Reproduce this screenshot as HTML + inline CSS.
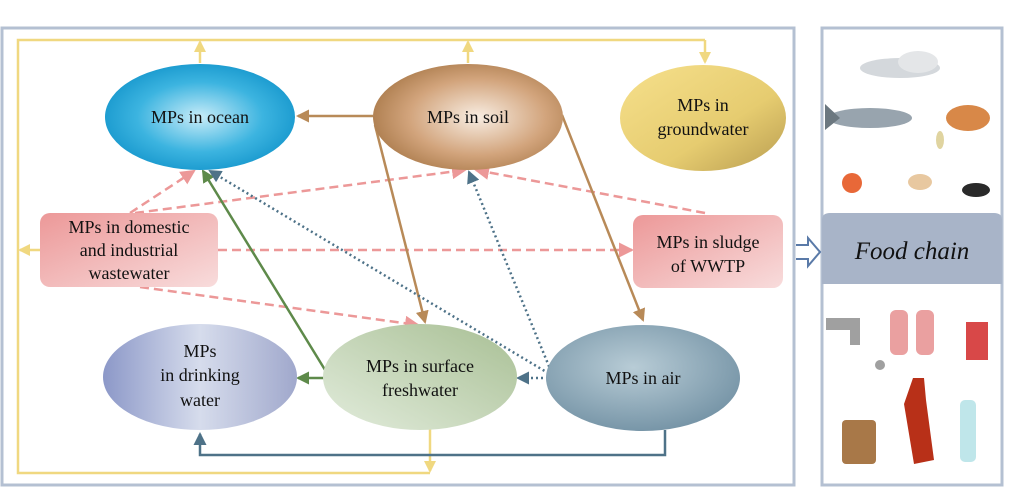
<!DOCTYPE html>
<html><head><meta charset="utf-8"><style>
body{margin:0;background:#fff;}
svg text{font-family:"Liberation Serif",serif;fill:#111;}
</style></head><body>
<svg width="1020" height="489" viewBox="0 0 1020 489" xmlns="http://www.w3.org/2000/svg">
<defs>
<radialGradient id="gOc" cx="50%" cy="50%" r="55%"><stop offset="0" stop-color="#c8ecf8"/><stop offset="0.6" stop-color="#3cb4e0"/><stop offset="1" stop-color="#1596cc"/></radialGradient>
<radialGradient id="gSo" cx="55%" cy="50%" r="60%"><stop offset="0" stop-color="#f8ede2"/><stop offset="0.6" stop-color="#d2a47c"/><stop offset="1" stop-color="#a87848"/></radialGradient>
<linearGradient id="gGw" x1="0" y1="0" x2="1" y2="1"><stop offset="0" stop-color="#f6e08c"/><stop offset="0.6" stop-color="#e6cc70"/><stop offset="1" stop-color="#b89c50"/></linearGradient>
<linearGradient id="gDr" x1="0" y1="0" x2="1" y2="0"><stop offset="0" stop-color="#8c98c8"/><stop offset="0.5" stop-color="#d6dcec"/><stop offset="1" stop-color="#a0a8cc"/></linearGradient>
<linearGradient id="gSf" x1="0" y1="1" x2="1" y2="0"><stop offset="0" stop-color="#e2ecdc"/><stop offset="1" stop-color="#a8bf94"/></linearGradient>
<radialGradient id="gAi" cx="45%" cy="40%" r="60%"><stop offset="0" stop-color="#b8ccd6"/><stop offset="1" stop-color="#7896a8"/></radialGradient>
<linearGradient id="gPk" x1="0" y1="0" x2="1" y2="1"><stop offset="0" stop-color="#ec9898"/><stop offset="1" stop-color="#f8dcdc"/></linearGradient>
<marker id="aY" markerWidth="12" markerHeight="12" refX="10" refY="6" orient="auto" markerUnits="userSpaceOnUse"><path d="M0,0L12,6L0,12z" fill="#f0d880"/></marker>
<marker id="aB" markerWidth="13" markerHeight="13" refX="11" refY="6.5" orient="auto" markerUnits="userSpaceOnUse"><path d="M0,0L13,6.5L0,13z" fill="#b88a58"/></marker>
<marker id="aG" markerWidth="13" markerHeight="13" refX="11" refY="6.5" orient="auto" markerUnits="userSpaceOnUse"><path d="M0,0L13,6.5L0,13z" fill="#5e8a4a"/></marker>
<marker id="aS" markerWidth="13" markerHeight="13" refX="11" refY="6.5" orient="auto" markerUnits="userSpaceOnUse"><path d="M0,0L13,6.5L0,13z" fill="#4e7288"/></marker>
<marker id="aP" markerWidth="15" markerHeight="15" refX="13" refY="7.5" orient="auto" markerUnits="userSpaceOnUse"><path d="M0,0L15,7.5L0,15z" fill="#ec9898"/></marker>
</defs>
<rect x="2" y="28" width="792" height="457" fill="none" stroke="#b4c0d2" stroke-width="3"/>
<rect x="822" y="28" width="180" height="457" fill="none" stroke="#b4c0d2" stroke-width="3"/>
<g stroke="#f0d880" stroke-width="2.5" fill="none">
<polyline points="705,40 18,40 18,473 430,473"/>
<line x1="705" y1="40" x2="705" y2="62" marker-end="url(#aY)"/>
<line x1="200" y1="63" x2="200" y2="42" marker-end="url(#aY)"/>
<line x1="468" y1="63" x2="468" y2="42" marker-end="url(#aY)"/>
<line x1="40" y1="250" x2="20" y2="250" marker-end="url(#aY)"/>
<line x1="430" y1="428" x2="430" y2="471" marker-end="url(#aY)"/>
</g>
<polyline points="665,430 665,455 200,455 200,434" fill="none" stroke="#4e7288" stroke-width="2.5" marker-end="url(#aS)"/>
<g stroke="#ec9898" stroke-width="2.5" stroke-dasharray="9,5" fill="none">
<line x1="130" y1="213" x2="194" y2="171" marker-end="url(#aP)"/>
<line x1="135" y1="213" x2="465" y2="170" marker-end="url(#aP)"/>
<line x1="705" y1="213" x2="476" y2="170" marker-end="url(#aP)"/>
<line x1="218" y1="250" x2="632" y2="250" marker-end="url(#aP)"/>
<line x1="140" y1="287" x2="418" y2="325" marker-end="url(#aP)"/>
</g>
<g stroke="#b88a58" stroke-width="2.5" fill="none">
<line x1="373" y1="116" x2="298" y2="116" marker-end="url(#aB)"/>
<line x1="375" y1="125" x2="425" y2="322" marker-end="url(#aB)"/>
<line x1="562" y1="115" x2="643" y2="320" marker-end="url(#aB)"/>
</g>
<g stroke="#5e8a4a" stroke-width="2.5" fill="none">
<line x1="330" y1="378" x2="298" y2="378" marker-end="url(#aG)"/>
<line x1="330" y1="378" x2="203" y2="171" marker-end="url(#aG)"/>
</g>
<g stroke="#4e7288" stroke-width="2.5" stroke-dasharray="2,3" fill="none">
<line x1="553" y1="378" x2="518" y2="378" marker-end="url(#aS)"/>
<line x1="553" y1="376" x2="210" y2="171" marker-end="url(#aS)"/>
<line x1="553" y1="376" x2="469" y2="172" marker-end="url(#aS)"/>
</g>
<ellipse cx="200" cy="117" rx="95" ry="53" fill="url(#gOc)"/>
<ellipse cx="468" cy="117" rx="95" ry="53" fill="url(#gSo)"/>
<ellipse cx="703" cy="118" rx="83" ry="53" fill="url(#gGw)"/>
<ellipse cx="200" cy="377" rx="97" ry="53" fill="url(#gDr)"/>
<ellipse cx="420" cy="377" rx="97" ry="53" fill="url(#gSf)"/>
<ellipse cx="643" cy="378" rx="97" ry="53" fill="url(#gAi)"/>
<rect x="40" y="213" width="178" height="74" rx="10" fill="url(#gPk)"/>
<rect x="633" y="215" width="150" height="73" rx="10" fill="url(#gPk)"/>
<g font-size="18" text-anchor="middle">
<text x="200" y="123">MPs in ocean</text>
<text x="468" y="123">MPs in soil</text>
<text x="703" y="111">MPs in</text><text x="703" y="135">groundwater</text>
<text x="129" y="233">MPs in domestic</text><text x="129" y="256">and industrial</text><text x="129" y="279">wastewater</text>
<text x="708" y="248">MPs in sludge</text><text x="708" y="272">of WWTP</text>
<text x="200" y="357">MPs</text><text x="200" y="381">in drinking</text><text x="200" y="406">water</text>
<text x="420" y="372">MPs in surface</text><text x="420" y="396">freshwater</text>
<text x="643" y="384">MPs in air</text>
</g>
<path d="M796,245 L808,245 L808,238 L820,252 L808,266 L808,259 L796,259" fill="#fff" stroke="#5a7aa8" stroke-width="2"/>
<path d="M822,220 Q822,213 830,213 L994,213 Q1002,213 1002,220 L1002,284 L822,284z" fill="#a8b4c8"/>
<text x="912" y="259" font-size="25" font-style="italic" text-anchor="middle">Food chain</text>
<ellipse cx="900" cy="68" rx="40" ry="10" fill="#d4d8dc"/><ellipse cx="918" cy="62" rx="20" ry="11" fill="#e4e6e8"/>
<ellipse cx="870" cy="118" rx="42" ry="10" fill="#98a4ae"/><path d="M825,104 L840,118 L825,130z" fill="#6c7880"/>
<ellipse cx="968" cy="118" rx="22" ry="13" fill="#d88848"/><ellipse cx="940" cy="140" rx="4" ry="9" fill="#e0d4a0"/>
<circle cx="852" cy="183" r="10" fill="#e86838"/>
<ellipse cx="920" cy="182" rx="12" ry="8" fill="#e8c8a0"/>
<ellipse cx="976" cy="190" rx="14" ry="7" fill="#2a2a2a"/>
<path d="M826,318 L860,318 L860,345 L850,345 L850,330 L826,330z" fill="#a0a0a0"/><circle cx="880" cy="365" r="5" fill="#a0a0a0"/>
<rect x="890" y="310" width="18" height="45" rx="6" fill="#eaa0a0"/><rect x="916" y="310" width="18" height="45" rx="6" fill="#eaa0a0"/>
<rect x="966" y="322" width="22" height="38" fill="#d84848"/>
<rect x="842" y="420" width="34" height="44" rx="4" fill="#a87848"/>
<path d="M913,378 L924,378 L926,400 L934,460 L914,464 L904,404z" fill="#b83018"/>
<rect x="960" y="400" width="16" height="62" rx="5" fill="#bfe6ea"/>
</svg>
</body></html>
